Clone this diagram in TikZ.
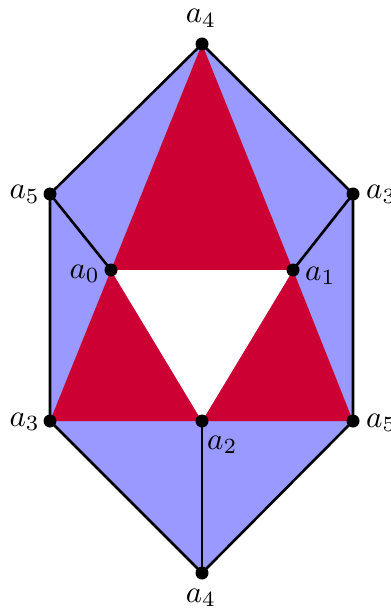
\documentclass[tikz,border=0pt]{standalone}
\begin{document}
\begin{tikzpicture}[x=1pt,y=-1pt,
  edge/.style={line width=2.6pt,line join=round},
  vdot/.style={circle,fill=black,inner sep=0pt,minimum size=13pt},
  lab/.style={inner sep=0pt}]
\definecolor{hexblue}{RGB}{153,153,255}
\definecolor{trired}{RGB}{204,0,51}
\newcommand{\biglab}[1]{\scalebox{3.1}{$#1$}}
\useasboundingbox (0,0) rectangle (390,609);
\coordinate (t4) at (202,44);
\coordinate (l5) at (50,194);
\coordinate (r3) at (353,194);
\coordinate (a0) at (111,270);
\coordinate (a1) at (293,270);
\coordinate (l3) at (50,421);
\coordinate (a2) at (202,421);
\coordinate (r5) at (353,421);
\coordinate (b4) at (202,573);
\fill[hexblue] (t4) -- (r3) -- (r5) -- (b4) -- (l3) -- (l5) -- cycle;
\fill[trired] (t4) -- (a0) -- (a1) -- cycle;
\fill[trired] (a0) -- (l3) -- (a2) -- cycle;
\fill[trired] (a1) -- (a2) -- (r5) -- cycle;
\fill[white] (a0) -- (a1) -- (a2) -- cycle;
\draw[edge] (t4) -- (r3) -- (r5) -- (b4) -- (l3) -- (l5) -- cycle;
\draw[edge] (l5) -- (a0);
\draw[edge] (r3) -- (a1);
\draw[edge] (a2) -- (b4);
\foreach \p in {t4,l5,r3,a0,a1,l3,a2,r5,b4} \node[vdot] (d\p) at (\p) {};
\node[lab,anchor=base] (Lt4) at (201,23) {\biglab{a_4}};
\node[lab,anchor=base east] (Ll5) at (40,199) {\biglab{a_5}};
\node[lab,anchor=base west] (Lr3) at (366,199) {\biglab{a_3}};
\node[lab,anchor=base east] (La0) at (100,278) {\biglab{a_0}};
\node[lab,anchor=base west] (La1) at (305,280) {\biglab{a_1}};
\node[lab,anchor=base east] (Ll3) at (40,426) {\biglab{a_3}};
\node[lab,anchor=base west] (La2) at (207,449) {\biglab{a_2}};
\node[lab,anchor=base west] (Lr5) at (366,427) {\biglab{a_5}};
\node[lab,anchor=base] (Lb4) at (201,602) {\biglab{a_4}};
\end{tikzpicture}
\end{document}
